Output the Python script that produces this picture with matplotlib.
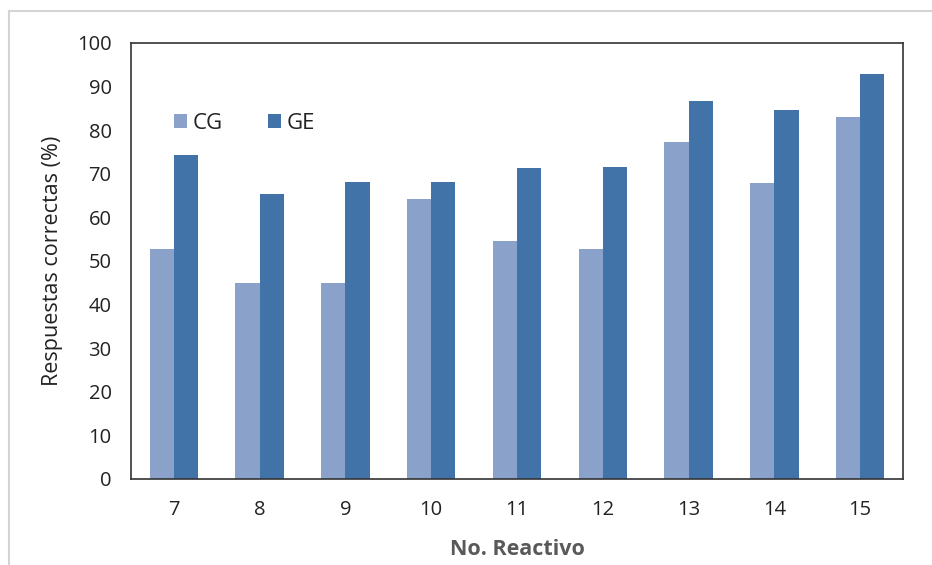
import matplotlib
matplotlib.use("Agg")
import matplotlib.pyplot as plt
import numpy as np
from matplotlib.lines import Line2D

reactivos = ["7", "8", "9", "10", "11", "12", "13", "14", "15"]
cg = [52.8, 44.9, 44.9, 64.2, 54.6, 52.8, 77.4, 67.8, 83.1]
ge = [74.2, 65.3, 68.1, 68.1, 71.3, 71.6, 86.6, 84.6, 93.0]
y_ticks = [0, 10, 20, 30, 40, 50, 60, 70, 80, 90, 100]

c_cg = "#8aa2ca"
c_ge = "#4273a8"

W, H = 932, 565
fig = plt.figure(figsize=(W / 100, H / 100), dpi=100)
fig.patch.set_facecolor("white")

# thin frame around the chart area
fig.add_artist(Line2D([9 / W, 9 / W], [0, 1 - 11 / H], color="#d4d4d4", lw=1.5))
fig.add_artist(Line2D([9 / W, 1], [1 - 11 / H, 1 - 11 / H], color="#d4d4d4", lw=1.5))

ax = fig.add_axes([131 / W, 1 - 479 / H, (903 - 131) / W, (479 - 43) / H])

x = np.arange(len(reactivos))
bw = 0.283
ax.bar(x - bw / 2, cg, width=bw, color=c_cg, label="CG")
ax.bar(x + bw / 2, ge, width=bw, color=c_ge, label="GE")

ax.set_xlim(-0.5, len(reactivos) - 0.5)
ax.set_ylim(0, 100)
ax.set_yticks(y_ticks)
ax.set_xticks(x)
ax.set_xticklabels(reactivos)
ax.tick_params(axis="both", length=0, labelsize=14.5, colors="#222222")
ax.tick_params(axis="y", pad=14)
ax.tick_params(axis="x", pad=15)
for lab in ax.get_xticklabels() + ax.get_yticklabels():
    lab.set_family("Open Sans")
for s in ax.spines.values():
    s.set_color("#333333")
    s.set_linewidth(1.2)

ax.set_ylabel("Respuestas correctas (%)", fontsize=15.5, family="Open Sans",
              color="#222222", labelpad=10)
ax.set_xlabel("No. Reactivo", fontsize=15.5, family="Open Sans", fontweight="bold",
              color="#595959", labelpad=14)

leg = ax.legend(loc="upper left", bbox_to_anchor=(0.03, 0.885), ncol=2, frameon=False,
                handlelength=0.6, handleheight=0.6, handletextpad=0.25,
                columnspacing=2.0, prop={"family": "Open Sans", "size": 16})
for t in leg.get_texts():
    t.set_color("#222222")

fig.savefig("out.png", dpi=100)
